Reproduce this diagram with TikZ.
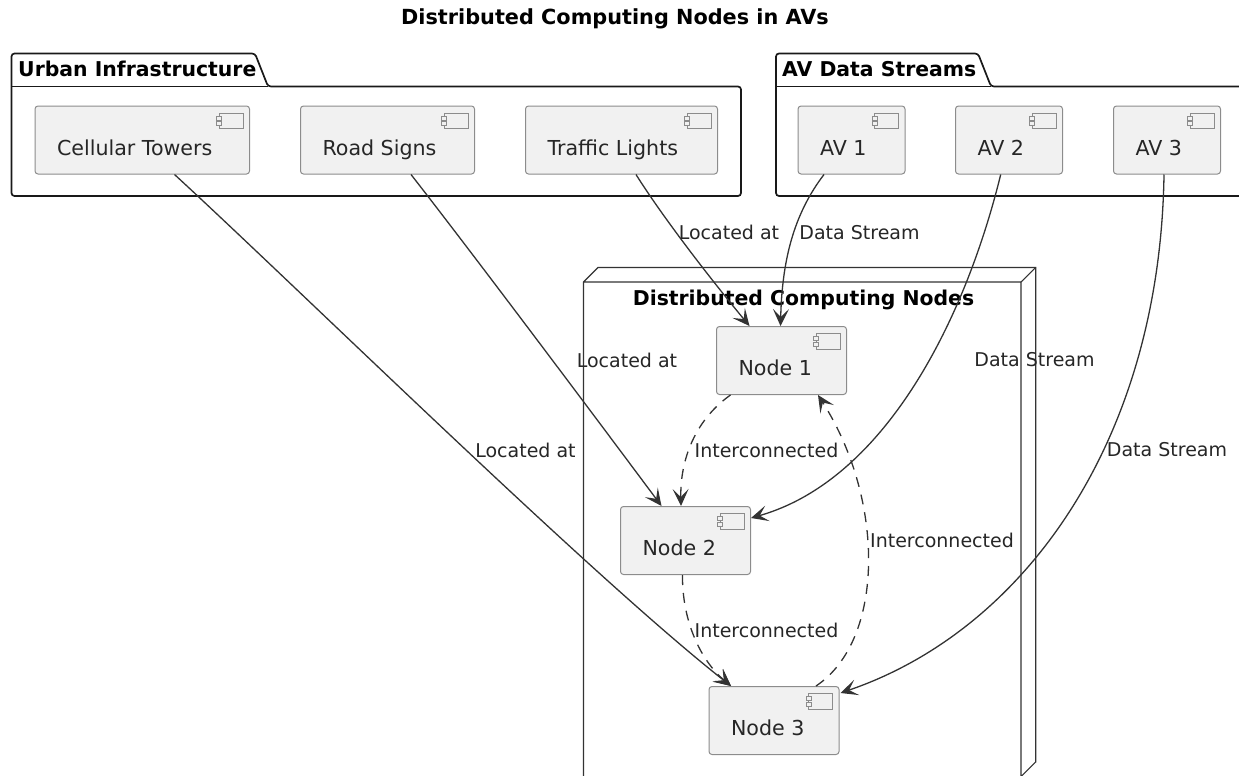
\documentclass[tikz,border=0pt]{standalone}
\usepackage{fontspec}
\setmainfont{DejaVu Sans}
\usetikzlibrary{arrows.meta,calc}
\definecolor{boxfill}{HTML}{F1F1F1}
\definecolor{boxline}{HTML}{8C8C8C}
\definecolor{wire}{HTML}{333333}
\newcommand\comptext[2]{\makebox[#1pt][l]{\hspace{22pt}#2}}
\tikzset{
  compbox/.style={draw=boxline,fill=boxfill,line width=1pt,rounded corners=3pt,inner sep=0pt,anchor=north west,
    minimum height=68pt,text height=49pt,text depth=19pt,font=\fontsize{20.6}{24}\selectfont,text=black!85},
  pkg/.style={draw=black!90,line width=1.7pt,rounded corners=3pt},
  frame/.style={draw=black!80,line width=1.1pt},
  wirearrow/.style={draw=wire,line width=1.3pt,-{Stealth[length=17pt,width=16pt,inset=8pt]}},
  dash wire/.style={wirearrow,dash pattern=on 10pt off 8pt},
  tag/.style={font=\fontsize{19}{22}\selectfont,text=black!85,inner sep=0pt},
  heading/.style={font=\bfseries\fontsize{20.4}{24}\selectfont,text=black,inner sep=0pt},
}
\begin{document}
\begin{tikzpicture}[x=1pt,y=-1pt]
\useasboundingbox (0,0) rectangle (1239,776);
\clip (0,0) rectangle (1239,776);
\node[heading,font=\bfseries\fontsize{20.8}{24}\selectfont] (title) at (615,19) {Distributed Computing Nodes in AVs};
% packages
\draw[pkg] (11.5,70) -- (11.5,53.5) -- (255,53.5) -- (268,86.5) -- (741,86.5) -- (741,196) -- (11.5,196) -- (11.5,70);
\draw[pkg,rounded corners=0pt] (11.5,86.5) -- (268,86.5);
\node[heading,anchor=west] (urban) at (18,69) {Urban Infrastructure};
\draw[pkg] (776,70) -- (776,53.5) -- (978,53.5) -- (991,86.5) -- (1260,86.5) -- (1260,196) -- (776,196) -- (776,70);
\draw[pkg,rounded corners=0pt] (776,86.5) -- (991,86.5);
\node[heading,anchor=west] (avs) at (782,69) {AV Data Streams};
% node frame
\draw[frame] (583.5,800) -- (583.5,282) -- (598,267.5) -- (1035.7,267.5) -- (1035.7,762) -- (1021,776.5) -- (1021,282) -- (583.5,282);
\draw[frame] (1021,282) -- (1035.7,267.5);
\node[heading] (dcn) at (803.5,300) {Distributed Computing Nodes};
% components
\node[compbox,minimum width=214.5pt] (ct) at (34.5,105.5) {\comptext{214.5}{Cellular Towers}};
\node[compbox,minimum width=174pt] (rs) at (300,105.5) {\comptext{174}{Road Signs}};
\node[compbox,minimum width=192pt] (tl) at (525,105.5) {\comptext{192}{Traffic Lights}};
\node[compbox,minimum width=107pt] (av1) at (797.5,105.5) {\comptext{107}{AV 1}};
\node[compbox,minimum width=107pt] (av2) at (955,105.5) {\comptext{107}{AV 2}};
\node[compbox,minimum width=107pt] (av3) at (1113,105.5) {\comptext{107}{AV 3}};
\node[compbox,minimum width=130pt] (n1) at (716,326) {\comptext{130}{Node 1}};
\node[compbox,minimum width=130pt] (n2) at (620,506) {\comptext{130}{Node 2}};
\node[compbox,minimum width=130pt] (n3) at (708.5,686) {\comptext{130}{Node 3}};
\foreach \n in {ct,rs,tl,av1,av2,av3,n1,n2,n3}{
  \draw[boxline,line width=0.9pt,fill=boxfill] ($(\n.north east)+(-31,7.5)$) rectangle ($(\n.north east)+(-7,23)$);
  \draw[boxline,line width=0.9pt,fill=boxfill] ($(\n.north east)+(-33.5,10.5)$) rectangle ($(\n.north east)+(-28.5,14.5)$);
  \draw[boxline,line width=0.9pt,fill=boxfill] ($(\n.north east)+(-33.5,16)$) rectangle ($(\n.north east)+(-28.5,20)$);
}
% connectors
\draw[wirearrow] ($(ct.south west)+(140,0)$) .. controls (300,290) and (590,575) .. ($(n3.north west)+(22.5,0)$);
\draw[wirearrow] ($(rs.south west)+(111,0)$) .. controls (470,250) and (590,410) .. ($(n2.north west)+(41.5,0)$);
\draw[wirearrow] ($(tl.south west)+(111,0)$) .. controls (655,205) and (695,260) .. ($(n1.north west)+(33.5,0)$);
\draw[wirearrow] ($(av1.south west)+(26.5,0)$) .. controls (793,215) and (782,262) .. ($(n1.north west)+(64.5,0)$);
\draw[wirearrow] ($(av2.south west)+(45.7,0)$) .. controls (965,320) and (885,480) .. ($(n2.north east)+(0,12)$);
\draw[wirearrow] ($(av3.south west)+(51,0)$) .. controls (1160,440) and (1025,630) .. ($(n3.north east)+(1,7)$);
\draw[dash wire] ($(n1.south west)+(14.5,0)$) .. controls (695,420) and (680,460) .. ($(n2.north west)+(61,0)$);
\draw[dash wire] ($(n2.south west)+(62.5,0)$) .. controls (682,620) and (700,660) .. ($(n3.north west)+(22.5,0)$);
\draw[dash wire] ($(n3.north west)+(107.5,0)$) .. controls (885,640) and (885,500) .. ($(n1.south west)+(102,0)$);
% labels
\node[tag] (l1) at (729,232.8) {Located at};
\node[tag] (d1) at (859.5,232.8) {Data Stream};
\node[tag] (l2) at (627,360) {Located at};
\node[tag] (d2) at (1034.5,360) {Data Stream};
\node[tag] (l3) at (525.5,450) {Located at};
\node[tag] (d3) at (1167,450) {Data Stream};
\node[tag] (i1) at (766.5,450) {Interconnected};
\node[tag] (i2) at (942,540.5) {Interconnected};
\node[tag] (i3) at (766.5,630) {Interconnected};
\end{tikzpicture}
\end{document}
